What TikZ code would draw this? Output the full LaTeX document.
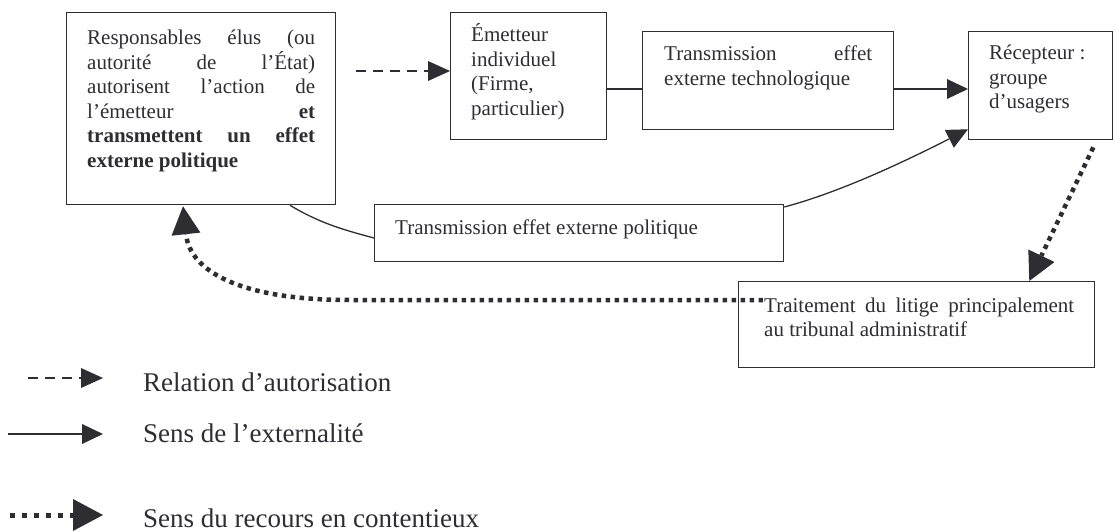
\documentclass[tikz,border=0pt]{standalone}
\usepackage{fontspec}
\setmainfont{Liberation Serif}
\usetikzlibrary{arrows.meta,calc}
\definecolor{ink}{RGB}{45,45,50}
\begin{document}
\begin{tikzpicture}[x=1pt,y=-1pt,
  box/.style={draw=ink, line width=1.3pt, anchor=north west, inner sep=0pt, rectangle},
  btxt/.style={anchor=base west, inner sep=0pt, text=ink, font=\fontsize{21}{24.5}\selectfont},
  ltxt/.style={anchor=base west, inner sep=0pt, text=ink, font=\fontsize{27}{30}\selectfont},
  solidline/.style={draw=ink, line width=1.3pt},
  solidarrow/.style={solidline, -{Triangle[length=21pt,width=20pt,line width=0pt]}},
  dasharrow/.style={draw=ink, line width=2pt, dash pattern=on 10pt off 7pt, -{Triangle[length=22pt,width=20pt,line width=0pt]}},
  dotarrow/.style={draw=ink, line width=4.5pt, dash pattern=on 4.5pt off 4.5pt, -{Triangle[length=28pt,width=29pt,line width=0pt]}},
  dotlegend/.style={draw=ink, line width=5pt, dash pattern=on 5pt off 7pt, -{Triangle[length=30pt,width=32pt,line width=0pt]}},
]
\useasboundingbox (0,0) rectangle (1115,532);

% boxes
\node[box, minimum width=269pt, minimum height=192pt] (b1) at (66,12) {};
\node[box, minimum width=156pt, minimum height=127pt] (b2) at (450,12) {};
\node[box, minimum width=251pt, minimum height=98pt] (b3) at (642,31) {};
\node[box, minimum width=144pt, minimum height=108pt] (b4) at (968,31) {};
\node[box, minimum width=409pt, minimum height=57pt] (b5) at (374,204) {};
\node[box, minimum width=356pt, minimum height=86pt] (b6) at (738,281) {};

% texts
\node[btxt] (t1) at (87,45) {\vtop{%
\hbox to 228pt{Responsables\hfill élus\hfill (ou}
\hbox to 228pt{autorité\hfill de\hfill l’État)}
\hbox to 228pt{autorisent\hfill l’action\hfill de}
\hbox to 228pt{l’émetteur\hfill\textbf{et}}
\hbox to 228pt{\textbf{transmettent\hfill un\hfill effet}}
\hbox{\textbf{externe politique}}}};
\node[btxt] (t2) at (471,42) {\vtop{%
\hbox{Émetteur}
\hbox{individuel}
\hbox{(Firme,}
\hbox{particulier)}}};
\node[btxt] (t3) at (664,61) {\vtop{%
\hbox to 208pt{Transmission\hfill effet}
\hbox{externe technologique}}};
\node[btxt] (t4) at (989,60) {\vtop{%
\hbox{Récepteur :}
\hbox{groupe}
\hbox{d’usagers}}};
\node[btxt] (t5) at (395,234) {Transmission effet externe politique};

% connectors
\draw[dasharrow] ($(b1.north east)+(20,59)$) -- ($(b2.north west)+(0,59)$);
\draw[solidline] ($(b2.north east)+(0,77)$) -- ($(b3.north west)+(0,58)$);
\draw[solidarrow] ($(b3.north east)+(0,58)$) -- ($(b4.north west)+(0,58)$);
\draw[solidline] ($(b1.south west)+(224,0)$) .. controls +(30,18) and +(-30,-8) .. ($(b5.north west)+(0,34)$);
\draw[solidarrow] ($(b5.north east)+(0,3)$) .. controls +(60,-16) and +(-55,28) .. ($(b4.south west)+(0,-11)$);
\draw[dotarrow] ($(b4.south east)+(-20,7)$) -- ($(b6.north east)+(-66,0)$);
\coordinate (bend) at (350,300);
\draw[dotarrow] ($(b6.north west)+(25,19)$) -- (bend) .. controls +(-110,0) and +(7,65) .. ($(b1.south west)+(117,1)$);

\node[btxt, fill=white, inner xsep=1pt] (t6) at (763,312) {\vtop{%
\hbox to 310pt{Traitement\hfill du\hfill litige\hfill principalement}
\hbox{au tribunal administratif}}};

% legend
\coordinate (la1) at (28,378);
\coordinate (la2) at (103,378);
\coordinate (lb1) at (8,434);
\coordinate (lb2) at (103,434);
\coordinate (lc1) at (10,515);
\coordinate (lc2) at (103,515);
\draw[dasharrow] (la1) -- (la2);
\draw[solidarrow] (lb1) -- (lb2);
\draw[dotlegend] (lc1) -- (lc2);
\node[ltxt] (l1) at (143,391) {Relation d’autorisation};
\node[ltxt] (l2) at (143,442) {Sens de l’externalité};
\node[ltxt] (l3) at (143,527) {Sens du recours en contentieux};
\end{tikzpicture}
\end{document}
